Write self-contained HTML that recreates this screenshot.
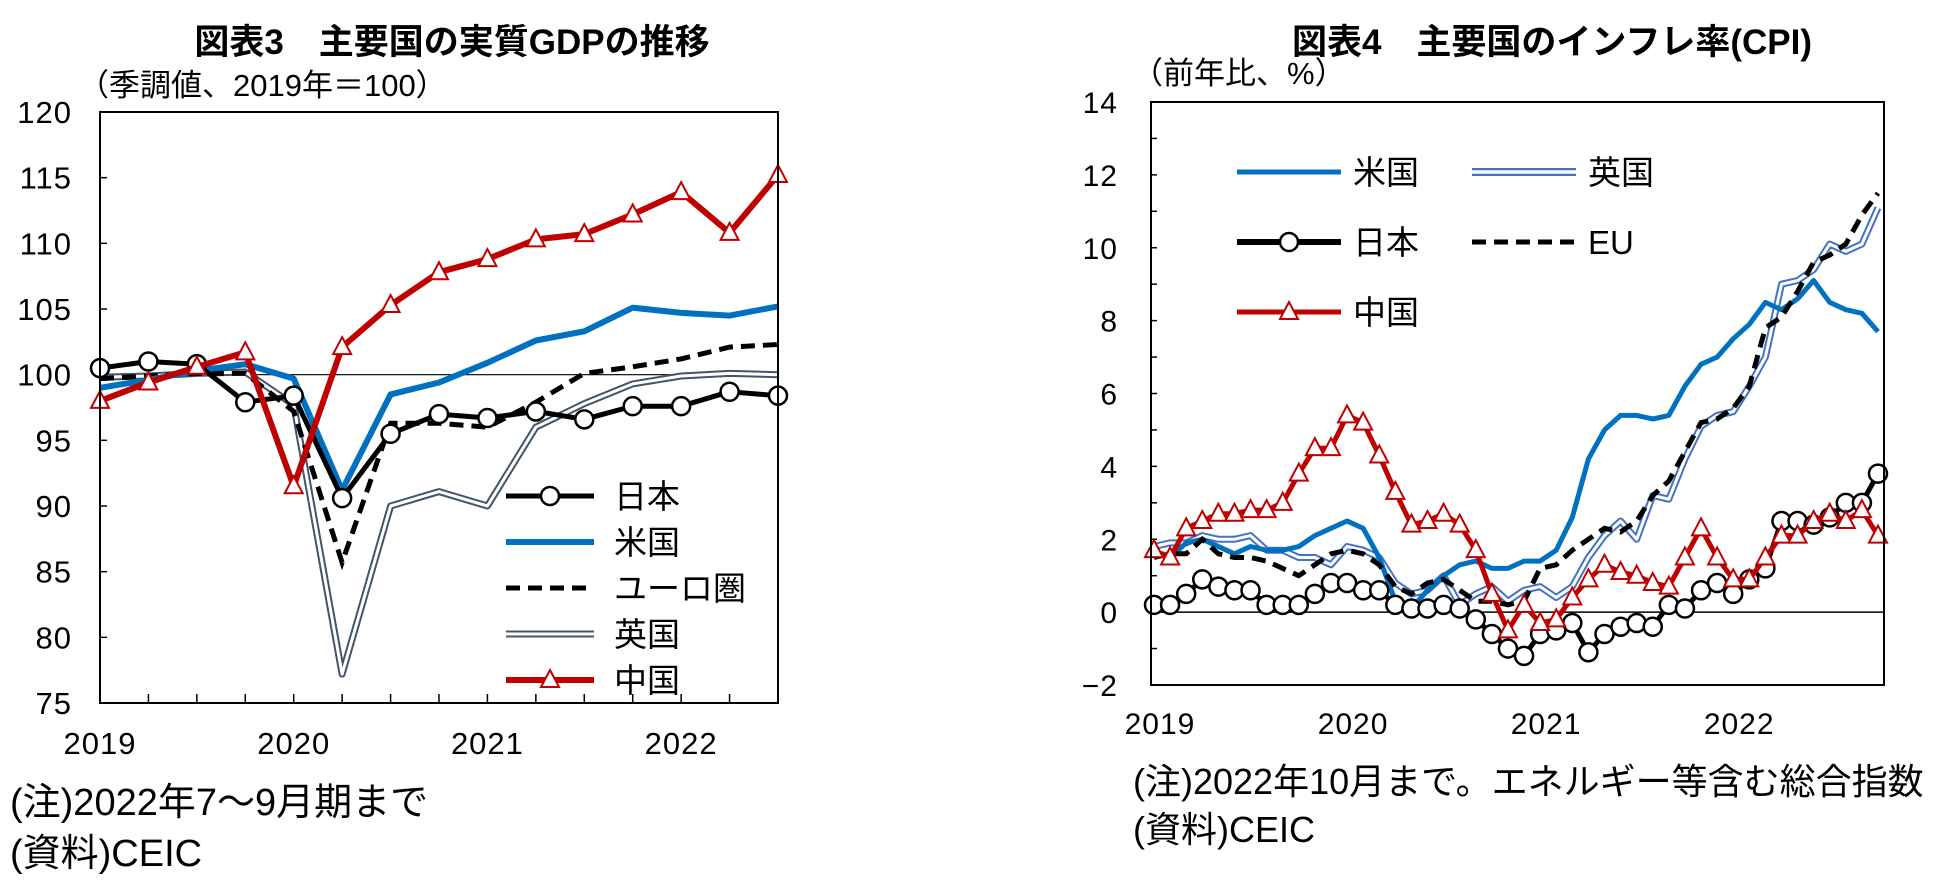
<!DOCTYPE html>
<html><head><meta charset="utf-8"><style>
body{margin:0;background:#fff}
svg{display:block;font-family:"Liberation Sans","Noto Sans CJK JP",sans-serif}
</style></head><body>
<svg id="s" width="1950" height="887" viewBox="0 0 1950 887" xmlns="http://www.w3.org/2000/svg">
<text x="452" y="54" font-size="35" font-weight="bold" text-anchor="middle">図表3　主要国の実質GDPの推移</text>
<text x="78" y="96" font-size="31">（季調値、2019年＝100）</text>
<text x="1552" y="54" font-size="35" font-weight="bold" text-anchor="middle">図表4　主要国のインフレ率(CPI)</text>
<text x="1132" y="84" font-size="31">（前年比、%）</text>
<text x="10" y="815" font-size="38">(注)2022年7～9月期まで</text>
<text x="10" y="866" font-size="38">(資料)CEIC</text>
<text x="1133" y="794" font-size="36">(注)2022年10月まで。エネルギー等含む総合指数</text>
<text x="1133" y="842" font-size="36">(資料)CEIC</text>
<g id="g1"></g><g id="g2"></g>
</svg>
<script>
const gdpYTicks=[75,80,85,90,95,100,105,110,115,120];
const gdpYears=["2019","2020","2021","2022"];
const gdpJapan=[100.5,101.0,100.8,97.9,98.4,90.6,95.5,97.0,96.7,97.2,96.6,97.6,97.6,98.7,98.4];
const gdpUS=[99.0,99.6,100.3,100.8,99.7,91.2,98.5,99.4,100.9,102.6,103.3,105.1,104.7,104.5,105.2];
const gdpEU=[99.7,99.9,100.1,100.1,97.2,85.7,96.3,96.3,96.0,97.9,100.1,100.6,101.2,102.1,102.3];
const gdpUK=[99.8,99.9,100.1,100.2,97.7,77.2,90.0,91.1,90.0,96.0,97.8,99.3,99.9,100.1,100.0];
const gdpChina=[98.0,99.4,100.6,101.7,91.5,102.1,105.3,107.8,108.8,110.3,110.7,112.2,113.9,110.8,115.2];

const cpiYTicks=[-2,0,2,4,6,8,10,12,14];
const cpiYears=["2019","2020","2021","2022"];
const cpiUS=[1.6,1.5,1.9,2.0,1.8,1.6,1.8,1.7,1.7,1.8,2.1,2.3,2.5,2.3,1.5,0.3,0.1,0.6,1.0,1.3,1.4,1.2,1.2,1.4,1.4,1.7,2.6,4.2,5.0,5.4,5.4,5.3,5.4,6.2,6.8,7.0,7.5,7.9,8.5,8.3,8.6,9.1,8.5,8.3,8.2,7.7];
const cpiUK=[1.8,1.9,1.9,2.1,2.0,2.0,2.1,1.7,1.7,1.5,1.5,1.3,1.8,1.7,1.5,0.8,0.5,0.6,1.0,0.2,0.5,0.7,0.3,0.6,0.7,0.4,0.7,1.5,2.1,2.5,2.0,3.2,3.1,4.2,5.1,5.4,5.5,6.2,7.0,9.0,9.1,9.4,10.1,9.9,10.1,11.1];
const cpiEU=[1.5,1.6,1.6,2.0,1.6,1.5,1.5,1.4,1.2,1.0,1.3,1.6,1.7,1.6,1.3,0.7,0.5,0.8,0.9,0.6,0.3,0.3,0.2,0.3,1.2,1.3,1.7,2.0,2.3,2.2,2.5,3.2,3.6,4.4,5.2,5.3,5.6,6.2,7.8,8.1,8.8,9.6,9.8,10.1,10.9,11.5];
const cpiJapan=[0.2,0.2,0.5,0.9,0.7,0.6,0.6,0.2,0.2,0.2,0.5,0.8,0.8,0.6,0.6,0.2,0.1,0.1,0.2,0.1,-0.2,-0.6,-1.0,-1.2,-0.6,-0.5,-0.3,-1.1,-0.6,-0.4,-0.3,-0.4,0.2,0.1,0.6,0.8,0.5,0.9,1.2,2.5,2.5,2.4,2.6,3.0,3.0,3.8];
const cpiChina=[1.7,1.5,2.3,2.5,2.7,2.7,2.8,2.8,3.0,3.8,4.5,4.5,5.4,5.2,4.3,3.3,2.4,2.5,2.7,2.4,1.7,0.5,-0.5,0.2,-0.3,-0.2,0.4,0.9,1.3,1.1,1.0,0.8,0.7,1.5,2.3,1.5,0.9,0.9,1.5,2.1,2.1,2.5,2.7,2.5,2.8,2.1];

const NS="http://www.w3.org/2000/svg";
function mk(p,tag,at,txt){const e=document.createElementNS(NS,tag);for(const k in at)e.setAttribute(k,at[k]);if(txt!=null)e.textContent=txt;p.appendChild(e);return e;}
function pts(arr,xf,yf){return arr.map((v,i)=>xf(i).toFixed(1)+","+yf(v).toFixed(1)).join(" ");}
function tri(p,x,y,fill,stroke){return mk(p,"polygon",{points:`${x},${y-10} ${x-9},${y+7} ${x+9},${y+7}`,fill:fill,stroke:stroke,"stroke-width":2});}

// ---- Chart 3 ----
const g1=document.getElementById("g1");
const L1={x0:100,x1:778,y0:112,y1:703};
const x1f=i=>L1.x0+i*(L1.x1-L1.x0)/14;
const y1f=v=>L1.y1-(v-75)/45*(L1.y1-L1.y0);
gdpYTicks.forEach(v=>{
 const t=mk(g1,"text",{x:72,y:y1f(v)+11,"font-size":31,"letter-spacing":1,"text-anchor":"end"},String(v));
 
 
 const l=mk(g1,"line",{x1:L1.x0,x2:L1.x0+7,y1:y1f(v),y2:y1f(v),stroke:"#000","stroke-width":1.5});
 
 
});
for(let i=0;i<15;i++){const l=mk(g1,"line",{x1:x1f(i),x2:x1f(i),y1:L1.y1,y2:L1.y1-9,stroke:"#000","stroke-width":1.5});
 
 }
gdpYears.forEach((s,k)=>{const t=mk(g1,"text",{x:x1f(k*4),y:754,"font-size":31,"letter-spacing":1,"text-anchor":"middle"},s);
 
 });
const ref=mk(g1,"line",{x1:L1.x0,x2:L1.x1,y1:y1f(100),y2:y1f(100),stroke:"#000","stroke-width":1.2});


let e;
e=mk(g1,"polyline",{points:pts(gdpUK,x1f,y1f),fill:"none",stroke:"#44546a","stroke-width":7,"stroke-linejoin":"round"});


mk(g1,"polyline",{points:pts(gdpUK,x1f,y1f),fill:"none",stroke:"#fff","stroke-width":3,"stroke-linejoin":"round"});
e=mk(g1,"polyline",{points:pts(gdpEU,x1f,y1f),fill:"none",stroke:"#000","stroke-width":5,"stroke-dasharray":"14 8"});


e=mk(g1,"polyline",{points:pts(gdpUS,x1f,y1f),fill:"none",stroke:"#0070c0","stroke-width":6,"stroke-linejoin":"round"});


e=mk(g1,"polyline",{points:pts(gdpJapan,x1f,y1f),fill:"none",stroke:"#000","stroke-width":5,"stroke-linejoin":"round"});


gdpJapan.forEach((v,i)=>{const c=mk(g1,"circle",{cx:x1f(i),cy:y1f(v),r:9,fill:"#fff",stroke:"#000","stroke-width":2.5});
 
 });
e=mk(g1,"polyline",{points:pts(gdpChina,x1f,y1f),fill:"none",stroke:"#c00000","stroke-width":6,"stroke-linejoin":"round"});


gdpChina.forEach((v,i)=>{const t=tri(g1,x1f(i),y1f(v),"#fff","#c00000");
 
 });
const box1=mk(g1,"rect",{x:L1.x0,y:L1.y0,width:L1.x1-L1.x0,height:L1.y1-L1.y0,fill:"none",stroke:"#000","stroke-width":2});


// legend 3
const leg1=[["日本","jp"],["米国","us"],["ユーロ圏","eu"],["英国","uk"],["中国","cn"]];
leg1.forEach((d,k)=>{const y=496+k*46,xa=506,xb=594;
 const lg=mk(g1,"g",{});
 
 
 if(d[1]=="jp"){mk(lg,"line",{x1:xa,x2:xb,y1:y,y2:y,stroke:"#000","stroke-width":5});mk(lg,"circle",{cx:(xa+xb)/2,cy:y,r:9,fill:"#fff",stroke:"#000","stroke-width":2.5});}
 if(d[1]=="us")mk(lg,"line",{x1:xa,x2:xb,y1:y,y2:y,stroke:"#0070c0","stroke-width":6});
 if(d[1]=="eu")mk(lg,"line",{x1:xa,x2:xb,y1:y,y2:y,stroke:"#000","stroke-width":5,"stroke-dasharray":"14 8"});
 if(d[1]=="uk"){mk(lg,"line",{x1:xa,x2:xb,y1:y,y2:y,stroke:"#44546a","stroke-width":7});mk(lg,"line",{x1:xa,x2:xb,y1:y,y2:y,stroke:"#fff","stroke-width":3});}
 if(d[1]=="cn"){mk(lg,"line",{x1:xa,x2:xb,y1:y,y2:y,stroke:"#c00000","stroke-width":6});tri(lg,(xa+xb)/2,y,"#fff","#c00000");}
 mk(lg,"text",{x:614,y:y+12,"font-size":33},d[0]);
});

// ---- Chart 4 ----
const g2=document.getElementById("g2");
const L2={x0:1151,x1:1884,y0:102,y1:685};
const x2f=i=>1154+i*(1878-1154)/45;
const y2f=v=>L2.y1-(v+2)/16*(L2.y1-L2.y0);
cpiYTicks.forEach(v=>{
 const t=mk(g2,"text",{x:1118,y:y2f(v)+11,"font-size":30,"letter-spacing":1,"text-anchor":"end"},v<0?"−"+(-v):String(v));
 
 
});
for(let v=-2;v<=14;v++){const l=mk(g2,"line",{x1:L2.x0,x2:L2.x0+6,y1:y2f(v),y2:y2f(v),stroke:"#000","stroke-width":1.5});
 
 }
cpiYears.forEach((s,k)=>{const t=mk(g2,"text",{x:x2f(k*12)+6,y:734,"font-size":30,"letter-spacing":1,"text-anchor":"middle"},s);
 
 });
e=mk(g2,"line",{x1:L2.x0,x2:L2.x1,y1:y2f(0),y2:y2f(0),stroke:"#000","stroke-width":1.5});


e=mk(g2,"polyline",{points:pts(cpiUK,x2f,y2f),fill:"none",stroke:"#4472c4","stroke-width":7,"stroke-linejoin":"round"});


mk(g2,"polyline",{points:pts(cpiUK,x2f,y2f),fill:"none",stroke:"#fff","stroke-width":3,"stroke-linejoin":"round"});
e=mk(g2,"polyline",{points:pts(cpiUS,x2f,y2f),fill:"none",stroke:"#0070c0","stroke-width":5,"stroke-linejoin":"round"});


e=mk(g2,"polyline",{points:pts(cpiEU,x2f,y2f),fill:"none",stroke:"#000","stroke-width":5,"stroke-dasharray":"14 8"});


e=mk(g2,"polyline",{points:pts(cpiJapan,x2f,y2f),fill:"none",stroke:"#000","stroke-width":5,"stroke-linejoin":"round"});


cpiJapan.forEach((v,i)=>{const c=mk(g2,"circle",{cx:x2f(i),cy:y2f(v),r:9,fill:"#fff",stroke:"#000","stroke-width":2.5});
 
 });
e=mk(g2,"polyline",{points:pts(cpiChina,x2f,y2f),fill:"none",stroke:"#c00000","stroke-width":5,"stroke-linejoin":"round"});


cpiChina.forEach((v,i)=>{const t=tri(g2,x2f(i),y2f(v),"#fff","#c00000");
 
 });
const box2=mk(g2,"rect",{x:L2.x0,y:L2.y0,width:L2.x1-L2.x0,height:L2.y1-L2.y0,fill:"none",stroke:"#000","stroke-width":2});


const leg2=[["米国","us",1237,172],["英国","uk",1472,172],["日本","jp",1237,242],["EU","eu",1472,242],["中国","cn",1237,312]];
leg2.forEach(d=>{const xa=d[2],xb=xa+104,y=d[3];
 const lg=mk(g2,"g",{});
 
 
 if(d[1]=="us")mk(lg,"line",{x1:xa,x2:xb,y1:y,y2:y,stroke:"#0070c0","stroke-width":5});
 if(d[1]=="uk"){mk(lg,"line",{x1:xa,x2:xb,y1:y,y2:y,stroke:"#4472c4","stroke-width":8});mk(lg,"line",{x1:xa,x2:xb,y1:y,y2:y,stroke:"#fff","stroke-width":3.5});}
 if(d[1]=="jp"){mk(lg,"line",{x1:xa,x2:xb,y1:y,y2:y,stroke:"#000","stroke-width":6});mk(lg,"circle",{cx:(xa+xb)/2,cy:y,r:9,fill:"#fff",stroke:"#000","stroke-width":2.5});}
 if(d[1]=="eu")mk(lg,"line",{x1:xa,x2:xb,y1:y,y2:y,stroke:"#000","stroke-width":5,"stroke-dasharray":"14 8"});
 if(d[1]=="cn"){mk(lg,"line",{x1:xa,x2:xb,y1:y,y2:y,stroke:"#c00000","stroke-width":5});tri(lg,(xa+xb)/2,y,"#fff","#c00000");}
 mk(lg,"text",{x:xb+12,y:y+12,"font-size":33},d[0]);
});
</script>
</body></html>
